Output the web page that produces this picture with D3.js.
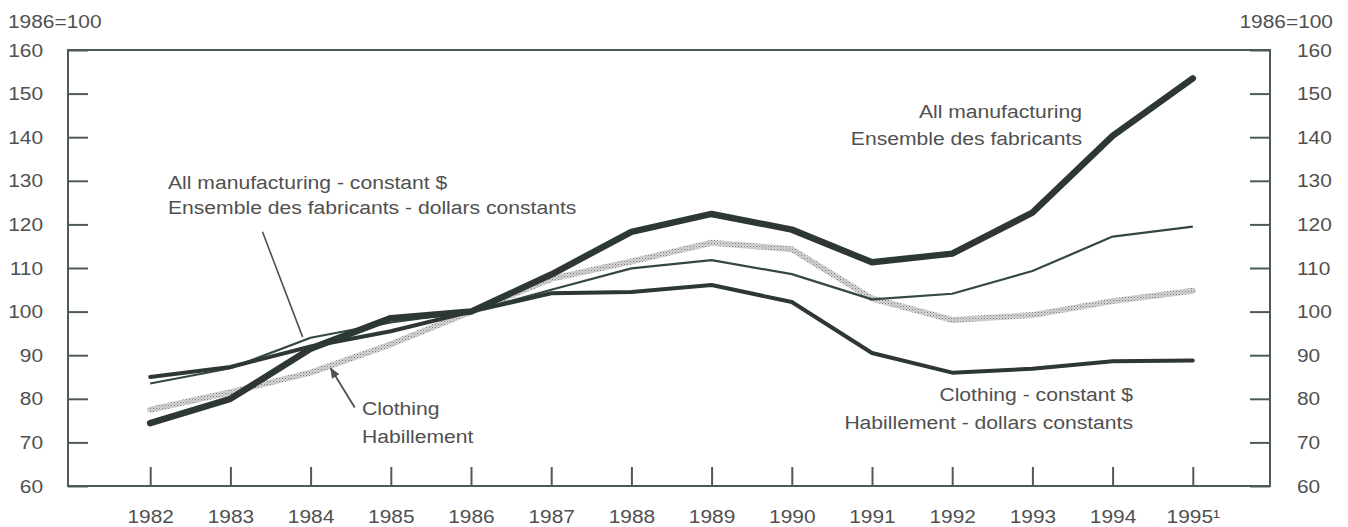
<!DOCTYPE html>
<html>
<head>
<meta charset="utf-8">
<script src="https://cdn.jsdelivr.net/npm/d3@7"></script>
<style>
  body { margin: 0; background: #fff; }
  svg text { font-family: "Liberation Sans", Arial, sans-serif; fill: #505050; }
</style>
</head>
<body>
<script>
var years = [1982, 1983, 1984, 1985, 1986, 1987, 1988, 1989, 1990, 1991, 1992, 1993, 1994, 1995];
var yearLabels = ["1982", "1983", "1984", "1985", "1986", "1987", "1988", "1989", "1990", "1991", "1992", "1993", "1994", "1995\u00b9"];
var yTicks = [60, 70, 80, 90, 100, 110, 120, 130, 140, 150, 160];

// index, 1986=100
var allMfg      = [74.4, 80, 91.5, 98.5, 100, 108.5, 118.3, 122.4, 118.8, 111.3, 113.3, 122.7, 140.3, 153.5];
var allMfgConst = [83.5, 87, 94, 97.5, 100, 105, 109.9, 111.8, 108.6, 102.8, 104.1, 109.3, 117.2, 119.5];
var clothing    = [85, 87.3, 92, 95.5, 100, 104.2, 104.5, 106.1, 102.2, 90.5, 86, 86.9, 88.6, 88.8];
var clothConst  = [77.5, 81.5, 86, 92.5, 100, 107.5, 111.5, 115.8, 114.3, 103, 98.1, 99.2, 102.4, 104.8];

var W = 1348, H = 527;
var plotL = 68, plotR = 1270, plotT = 50, plotB = 486;
var ink = "#2e3832", frameCol = "#4d5c53";

var svg = d3.select("body").append("svg").attr("width", W).attr("height", H);

var x = d3.scaleLinear().domain([1981, 1996]).range([70, 1273]);
var y = d3.scaleLinear().domain([60, 160]).range([plotB, plotT]);

// stipple pattern for the grey line
var defs = svg.append("defs");
var pat = defs.append("pattern").attr("id", "stipple").attr("patternUnits", "userSpaceOnUse")
  .attr("width", 3).attr("height", 3);
pat.append("rect").attr("width", 3).attr("height", 3).attr("fill", "#d4d4d4");
pat.append("rect").attr("width", 1).attr("height", 1).attr("fill", "#7d7d7d");
pat.append("rect").attr("x", 1.5).attr("y", 1.5).attr("width", 1).attr("height", 1).attr("fill", "#a0a0a0");

defs.append("marker").attr("id", "arrow").attr("viewBox", "0 0 10 10")
  .attr("refX", 9).attr("refY", 5).attr("markerWidth", 6).attr("markerHeight", 6)
  .attr("orient", "auto")
  .append("path").attr("d", "M0,1L10,5L0,9z").attr("fill", "#505050");

// frame
svg.append("rect").attr("x", plotL).attr("y", plotT).attr("width", plotR - plotL).attr("height", plotB - plotT)
  .attr("fill", "none").attr("stroke", frameCol).attr("stroke-width", 2);

function styleAxis(g) {
  g.select(".domain").remove();
  g.selectAll(".tick line").attr("stroke", frameCol).attr("stroke-width", 2);
  g.selectAll(".tick text").attr("font-size", 19).attr("fill", "#505050")
    .attr("font-family", "Liberation Sans, Arial, sans-serif")
    .attr("transform", "scale(1.1,1)");
}

svg.append("g").attr("transform", "translate(" + plotL + ",0)")
  .call(d3.axisLeft(y).tickValues(yTicks).tickSize(-20).tickPadding(22.7))
  .call(styleAxis);

svg.append("g").attr("transform", "translate(" + plotR + ",0)")
  .call(d3.axisRight(y).tickValues(yTicks).tickSize(-20).tickPadding(24.5))
  .call(styleAxis);

svg.append("g").attr("transform", "translate(0," + plotB + ")")
  .call(d3.axisBottom(x).tickValues(years).tickSize(-19).tickPadding(24)
    .tickFormat(function(d, i) { return yearLabels[i]; }))
  .call(styleAxis);

// text helper, slightly widened like the scanned original
function label(txt, px, py, anchor, size) {
  svg.append("text").attr("transform", "translate(" + px + "," + py + ") scale(1.1,1)")
    .attr("text-anchor", anchor || "start").attr("font-size", size || 19.2).text(txt);
}
label("1986=100", 8, 28, "start", 19);
label("1986=100", 1333, 28, "end", 19);

var line = d3.line().x(function(d, i) { return x(years[i]); }).y(function(d) { return y(d); });

svg.append("path").datum(clothConst).attr("d", line).attr("fill", "none")
  .attr("stroke", "url(#stipple)").attr("stroke-width", 6).attr("stroke-linejoin", "round").attr("stroke-linecap", "round");
svg.append("path").datum(allMfgConst).attr("d", line).attr("fill", "none")
  .attr("stroke", "#33493d").attr("stroke-width", 2.2).attr("stroke-linejoin", "round");
svg.append("path").datum(clothing).attr("d", line).attr("fill", "none")
  .attr("stroke", ink).attr("stroke-width", 4).attr("stroke-linejoin", "round").attr("stroke-linecap", "round");
svg.append("path").datum(allMfg).attr("d", line).attr("fill", "none")
  .attr("stroke", ink).attr("stroke-width", 6.5).attr("stroke-linejoin", "round").attr("stroke-linecap", "round");

// annotations
label("All manufacturing - constant $", 168, 189);
label("Ensemble des fabricants - dollars constants", 168, 214);
svg.append("line")
  .attr("x1", x(1983.4)).attr("y1", y(118.3)).attr("x2", x(1983.9)).attr("y2", y(94.2))
  .attr("stroke", "#505050").attr("stroke-width", 1.6);

label("Clothing", 362, 415);
label("Habillement", 362, 443);
svg.append("line")
  .attr("x1", x(1984.55)).attr("y1", y(78)).attr("x2", x(1984.25)).attr("y2", y(87))
  .attr("stroke", "#505050").attr("stroke-width", 1.8).attr("marker-end", "url(#arrow)");

label("All manufacturing", 1082, 118, "end");
label("Ensemble des fabricants", 1082, 145, "end");

label("Clothing - constant $", 1133, 401, "end");
label("Habillement - dollars constants", 1133, 429, "end");
</script>
</body>
</html>
